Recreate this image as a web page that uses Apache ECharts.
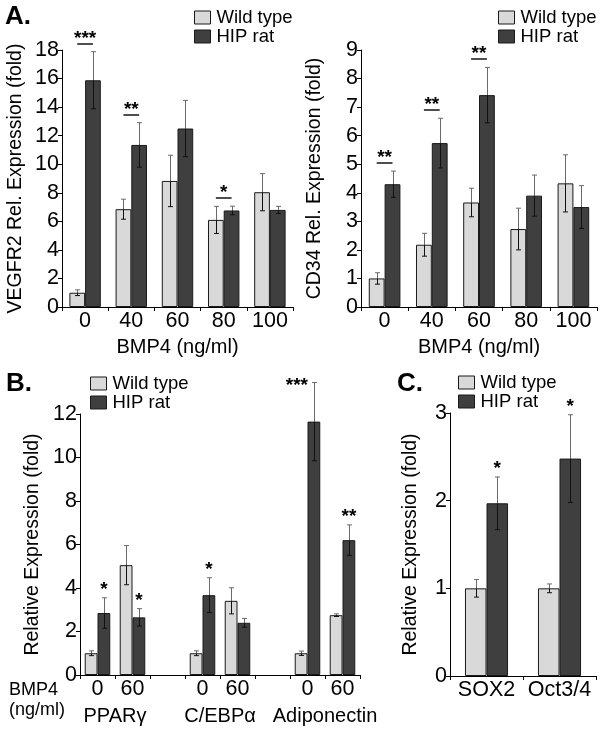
<!DOCTYPE html>
<html><head><meta charset="utf-8">
<script src="https://cdn.jsdelivr.net/npm/echarts@6/dist/echarts.min.js"></script>
<style>html,body{margin:0;padding:0;background:#fff}#c{width:603px;height:732px}</style>
</head><body><div id="c"></div>
<script>
// ---------- DATA ----------
const seriesNames = ['Wild type', 'HIP rat'];
const aCats = ['0', '40', '60', '80', '100'];
const aXTitle = 'BMP4 (ng/ml)';

const vegfrTitle = 'VEGFR2 Rel. Expression (fold)';
const vegfrTicks = [0, 18, 2];
const vegfrWT = [1.0, 6.85, 8.83, 6.1, 8.04];
const vegfrWTErr = [0.2, 0.7, 1.8, 0.95, 1.3];
const vegfrHIP = [15.88, 11.35, 12.5, 6.76, 6.8];
const vegfrHIPErr = [2.0, 1.56, 1.97, 0.3, 0.25];
const vegfrSig = ['***', '**', '', '*', ''];

const cd34Title = 'CD34 Rel. Expression (fold)';
const cd34Ticks = [0, 9, 1];
const cd34WT = [1.0, 2.18, 3.66, 2.73, 4.33];
const cd34WTErr = [0.2, 0.4, 0.5, 0.73, 1.0];
const cd34HIP = [4.3, 5.74, 7.42, 3.9, 3.5];
const cd34HIPErr = [0.46, 0.87, 0.97, 0.72, 0.75];
const cd34Sig = ['**', '**', '**', '', ''];

const bTitle = 'Relative Expression (fold)';
const bTicks = [0, 12, 2];
const bCats = ['0', '60', '', '0', '60', '', '0', '60'];
const bGenes = ['PPARγ', 'C/EBPα', 'Adiponectin'];
const bGeneCatPairs = [[0, 1], [3, 4], [6, 7]];
const bDoseLabel = ['BMP4', '(ng/ml)'];
const bWT = [1.0, 5.05, null, 1.0, 3.41, null, 1.0, 2.75];
const bWTErr = [0.11, 0.9, null, 0.11, 0.6, null, 0.1, 0.06];
const bHIP = [2.85, 2.65, null, 3.67, 2.4, null, 11.65, 6.2];
const bHIPErr = [0.7, 0.4, null, 0.8, 0.2, null, 1.8, 0.7];
const bSig = ['*', '*', '', '*', '', '', '***', '**'];

const cTitle = 'Relative Expression (fold)';
const cTicks = [0, 3, 1];
const cCats = ['SOX2', 'Oct3/4'];
const cWT = [1.0, 1.0];
const cWTErr = [0.1, 0.05];
const cHIP = [1.97, 2.48];
const cHIPErr = [0.3, 0.5];
const cSig = ['*', '*'];

const panelLetters = ['A.', 'B.', 'C.'];

// ---------- STYLE ----------
const FONT = '"Liberation Sans", Arial, sans-serif';
const WT_COLOR = '#d9d9d9';
const HIP_COLOR = '#3f3f3f';
const EDGE = '#1a1a1a';
const TICK_FS = 21.5;

const grids = [
  { left: 62, top: 50, width: 231, height: 257, gap: 0.32 },
  { left: 361, top: 50, width: 236, height: 257, gap: 0.33 },
  { left: 80, top: 414, width: 280, height: 261, gap: 0.27 },
  { left: 450, top: 413, width: 146, height: 263, gap: 0.41 }
];

function xAxis(gi, cats, name) {
  return {
    type: 'category', gridIndex: gi, data: cats,
    name: name || '', nameLocation: 'middle', nameGap: 30,
    nameTextStyle: { fontFamily: FONT, fontSize: 20, color: '#000' },
    axisLine: { lineStyle: { color: '#000', width: 1 } },
    axisTick: { show: true, length: 4, lineStyle: { color: '#000' } },
    axisLabel: { fontFamily: FONT, fontSize: TICK_FS, color: '#000', margin: 3, interval: 0 },
    splitLine: { show: false }
  };
}
function yAxis(gi, ticks, name, gap) {
  return {
    type: 'value', gridIndex: gi, min: ticks[0], max: ticks[1], interval: ticks[2],
    name: name, nameLocation: 'middle', nameGap: gap,
    nameTextStyle: { fontFamily: FONT, fontSize: 19.5, color: '#000' },
    axisLine: { show: true, lineStyle: { color: '#000', width: 1 } },
    axisTick: { show: true, length: 4, lineStyle: { color: '#000' } },
    axisLabel: { fontFamily: FONT, fontSize: TICK_FS, color: '#000', margin: 3 },
    splitLine: { show: false }
  };
}

function barSeries(gi, side, vals) {
  return {
    type: 'bar', name: seriesNames[side], xAxisIndex: gi, yAxisIndex: gi,
    data: vals, barGap: '0%', barCategoryGap: (grids[gi].gap * 100) + '%',
    itemStyle: { color: side === 0 ? WT_COLOR : HIP_COLOR, borderColor: EDGE, borderWidth: 1 },
    silent: true
  };
}

function errSeries(gi, side, vals, errs) {
  const data = [];
  vals.forEach((v, i) => { if (v != null) data.push([i, v, errs[i]]); });
  const gap = grids[gi].gap;
  return {
    type: 'custom', xAxisIndex: gi, yAxisIndex: gi, data: data, silent: true, z: 5,
    renderItem: function (params, api) {
      const cat = api.value(0), v = api.value(1), e = api.value(2);
      const band = api.size([1, 0])[0];
      const w = band * (1 - gap) / 2;
      const c = api.coord([cat, v]);
      const x = Math.round(c[0] + (side === 0 ? -w / 2 : w / 2)) + 0.5;
      const top = api.coord([cat, v + e])[1];
      const bot = api.coord([cat, v - e])[1];
      const cw = 2.5;
      const up = { stroke: '#6a6a6a', lineWidth: 1 };
      const dn = { stroke: '#111', lineWidth: 1 };
      return { type: 'group', children: [
        { type: 'line', shape: { x1: x, y1: top, x2: x, y2: c[1] }, style: up },
        { type: 'line', shape: { x1: x, y1: c[1], x2: x, y2: bot }, style: dn },
        { type: 'line', shape: { x1: x - cw, y1: top, x2: x + cw, y2: top }, style: up },
        { type: 'line', shape: { x1: x - cw, y1: bot, x2: x + cw, y2: bot }, style: dn }
      ]};
    }
  };
}

// significance with bracket line (panel A)
function sigLineSeries(gi, sig, hip, hipErr) {
  const data = [];
  sig.forEach((s, i) => { if (s) data.push([i, hip[i] + hipErr[i]]); });
  const gap = grids[gi].gap;
  return {
    type: 'custom', xAxisIndex: gi, yAxisIndex: gi, data: data, silent: true, z: 6,
    renderItem: function (params, api) {
      const cat = api.value(0);
      const band = api.size([1, 0])[0];
      const w = band * (1 - gap) / 2;
      const p = api.coord([cat, api.value(1)]);
      const ly = Math.round(p[1] - 8);
      return { type: 'group', children: [
        { type: 'line', shape: { x1: p[0] - w / 2, y1: ly, x2: p[0] + w / 2, y2: ly },
          style: { stroke: '#222', lineWidth: 1.6 } },
        { type: 'text', x: p[0], y: ly - 5,
          style: { text: sig[cat], fontFamily: FONT, fontSize: 19, fontWeight: 'bold', fill: '#000',
                   align: 'center', verticalAlign: 'middle' } }
      ]};
    }
  };
}

// stars over HIP bars (panels B, C)
const starOffsets = { '2-6': [-17, 11] };
function sigStarSeries(gi, sig, hip, hipErr) {
  const data = [];
  sig.forEach((s, i) => { if (s) data.push([i, hip[i] + hipErr[i]]); });
  const gap = grids[gi].gap;
  return {
    type: 'custom', xAxisIndex: gi, yAxisIndex: gi, data: data, silent: true, z: 6,
    renderItem: function (params, api) {
      const cat = api.value(0);
      const band = api.size([1, 0])[0];
      const w = band * (1 - gap) / 2;
      const p = api.coord([cat, api.value(1)]);
      const off = starOffsets[gi + '-' + cat] || [0, 0];
      return { type: 'text', x: p[0] + w / 2 + off[0], y: p[1] - 8 + off[1],
        style: { text: sig[cat], fontFamily: FONT, fontSize: 19, fontWeight: 'bold', fill: '#000',
                 align: 'center', verticalAlign: 'middle' } };
    }
  };
}

function legend(left, top) {
  return {
    left: left, top: top, padding: 0, orient: 'vertical', itemGap: 0, itemWidth: 16, itemHeight: 13,
    icon: 'rect', data: seriesNames, selectedMode: false,
    itemStyle: { borderColor: EDGE, borderWidth: 1 },
    textStyle: { fontFamily: FONT, fontSize: 18.5, color: '#000', lineHeight: 18, padding: [0, 0, 0, 1] }
  };
}

const chart = echarts.init(document.getElementById('c'), null, { renderer: 'canvas' });
const option = {
  animation: false,
  backgroundColor: '#fff',
  grid: grids.map(g => ({ left: g.left, top: g.top, width: g.width, height: g.height, outerBoundsMode: 'none', containLabel: false })),
  legend: [legend(194, 8), legend(498, 8), legend(90, 374), legend(458, 373)],
  xAxis: [xAxis(0, aCats, aXTitle), xAxis(1, aCats, aXTitle), xAxis(2, bCats, ''), xAxis(3, cCats, '')],
  yAxis: [yAxis(0, vegfrTicks, vegfrTitle, 36), yAxis(1, cd34Ticks, cd34Title, 36),
          yAxis(2, bTicks, bTitle, 37), yAxis(3, cTicks, cTitle, 29)],
  series: [
    barSeries(0, 0, vegfrWT), barSeries(0, 1, vegfrHIP),
    errSeries(0, 0, vegfrWT, vegfrWTErr), errSeries(0, 1, vegfrHIP, vegfrHIPErr),
    sigLineSeries(0, vegfrSig, vegfrHIP, vegfrHIPErr),
    barSeries(1, 0, cd34WT), barSeries(1, 1, cd34HIP),
    errSeries(1, 0, cd34WT, cd34WTErr), errSeries(1, 1, cd34HIP, cd34HIPErr),
    sigLineSeries(1, cd34Sig, cd34HIP, cd34HIPErr),
    barSeries(2, 0, bWT), barSeries(2, 1, bHIP),
    errSeries(2, 0, bWT, bWTErr), errSeries(2, 1, bHIP, bHIPErr),
    sigStarSeries(2, bSig, bHIP, bHIPErr),
    barSeries(3, 0, cWT), barSeries(3, 1, cHIP),
    errSeries(3, 0, cWT, cWTErr), errSeries(3, 1, cHIP, cHIPErr),
    sigStarSeries(3, cSig, cHIP, cHIPErr)
  ]
};
chart.setOption(option);

// text annotations: panel letters, dose label and gene names (positions via axis conversion)
const graphics = [];
const letterPos = [[5, 17], [6, 384], [397, 384]];
panelLetters.forEach((t, i) => graphics.push({
  type: 'text', x: letterPos[i][0], y: letterPos[i][1],
  style: { text: t, fontFamily: FONT, fontSize: 26, fontWeight: 'bold', fill: '#000', verticalAlign: 'middle' }
}));
bDoseLabel.forEach((t, i) => graphics.push({
  type: 'text', x: 9, y: 690 + i * 20,
  style: { text: t, fontFamily: FONT, fontSize: 18, fill: '#000', verticalAlign: 'middle' }
}));
bGenes.forEach((g, i) => {
  const x0 = chart.convertToPixel({ xAxisIndex: 2 }, bGeneCatPairs[i][0]);
  const x1 = chart.convertToPixel({ xAxisIndex: 2 }, bGeneCatPairs[i][1]);
  graphics.push({
    type: 'text', x: (x0 + x1) / 2, y: 716,
    style: { text: g, fontFamily: FONT, fontSize: 20, fill: '#000', align: 'center', verticalAlign: 'middle' }
  });
});
chart.setOption({ graphic: graphics });
</script></body></html>
